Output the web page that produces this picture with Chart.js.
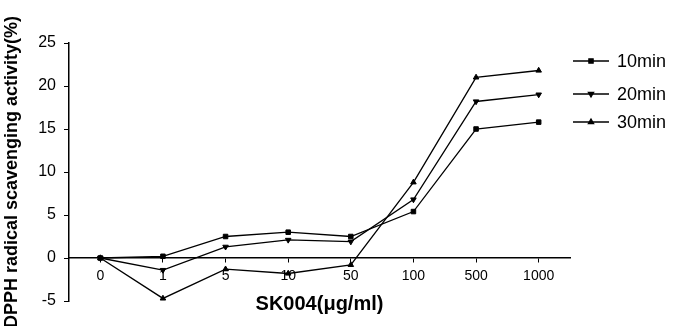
<!DOCTYPE html>
<html>
<head>
<meta charset="utf-8">
<script src="https://cdn.jsdelivr.net/npm/chart.js"></script>
<style>
  body { margin: 0; background: #fff; }
  #wrap { width: 681px; height: 326px; }
</style>
</head>
<body>
<div id="wrap"><canvas id="mainChart" width="681" height="326"></canvas></div>
<script>
// concentrations of SK004 (ug/ml)
const doses = ["0", "1", "5", "10", "50", "100", "500", "1000"];
// scavenging activity (%) after each incubation time
const min10 = [0, 0.2, 2.5, 3.0, 2.5, 5.4, 15.0, 15.8];
const min20 = [0, -1.4, 1.3, 2.1, 1.9, 6.8, 18.2, 19.0];
const min30 = [0, -4.7, -1.3, -1.8, -0.8, 8.8, 21.0, 21.8];
const seriesNames = ["10min", "20min", "30min"];
const yTicks = [-5, 0, 5, 10, 15, 20, 25];

Chart.defaults.font.family = "'Liberation Sans', Arial, sans-serif";
Chart.defaults.color = "#000";

// legend drawn by hand: a short line with the marker on it, then the name
const legendRows = [61, 94, 122];
const sideLegend = {
  id: "sideLegend",
  afterDraw(chart) {
    const ctx = chart.ctx;
    chart.data.datasets.forEach((ds, i) => {
      const y = legendRows[i];
      ctx.save();
      ctx.strokeStyle = "#000";
      ctx.fillStyle = "#000";
      ctx.lineWidth = 1.3;
      ctx.beginPath();
      ctx.moveTo(573, y);
      ctx.lineTo(609, y);
      ctx.stroke();
      Chart.helpers.drawPoint(ctx, {
        pointStyle: ds.pointStyle,
        rotation: ds.pointRotation || 0,
        radius: 3,
        borderWidth: 1
      }, 591, y);
      ctx.font = "18px 'Liberation Sans', Arial, sans-serif";
      ctx.textBaseline = "middle";
      ctx.fillText(ds.label, 617, y + 1);
      ctx.restore();
    });
  }
};

function makeSet(name, values, style, rot) {
  return {
    label: name,
    data: values,
    borderColor: "#000",
    backgroundColor: "#000",
    borderWidth: 1.3,
    pointStyle: style,
    pointRotation: rot,
    pointRadius: 3.2,
    pointBorderWidth: 1,
    tension: 0
  };
}

const ctx = document.getElementById("mainChart").getContext("2d");
const chart = new Chart(ctx, {
  type: "line",
  data: {
    labels: doses,
    datasets: [
      makeSet(seriesNames[0], min10, "rect", 0),
      makeSet(seriesNames[1], min20, "triangle", 180),
      makeSet(seriesNames[2], min30, "triangle", 0)
    ]
  },
  options: {
    responsive: false,
    animation: false,
    layout: { padding: { left: 0, right: 111, top: 43, bottom: 25 } },
    plugins: {
      legend: { display: false },
      tooltip: { enabled: false }
    },
    scales: {
      x: {
        position: { y: 0 },
        offset: true,
        grid: { drawOnChartArea: false, offset: false, tickLength: 4, color: "#000" },
        border: { color: "#000", width: 1.5 },
        ticks: { font: { size: 14 }, padding: 6, maxRotation: 0 },
        title: {
          display: true,
          text: "SK004(μg/ml)",
          font: { size: 20, weight: "bold" },
          padding: { top: 2, bottom: 0 }
        }
      },
      y: {
        min: yTicks[0],
        max: yTicks[yTicks.length - 1],
        afterBuildTicks(scale) {
          scale.ticks = yTicks.map(v => ({ value: v }));
        },
        afterFit(scale) {
          scale.width = 69;
        },
        grid: { drawOnChartArea: false, tickLength: 5, color: "#000" },
        border: { color: "#000", width: 1.5 },
        ticks: { font: { size: 16 }, padding: 8 },
        title: {
          display: true,
          text: "DPPH radical scavenging activity(%)",
          font: { size: 18, weight: "bold" },
          padding: { top: 1, bottom: 0 }
        }
      }
    }
  },
  plugins: [sideLegend]
});
</script>
</body>
</html>
